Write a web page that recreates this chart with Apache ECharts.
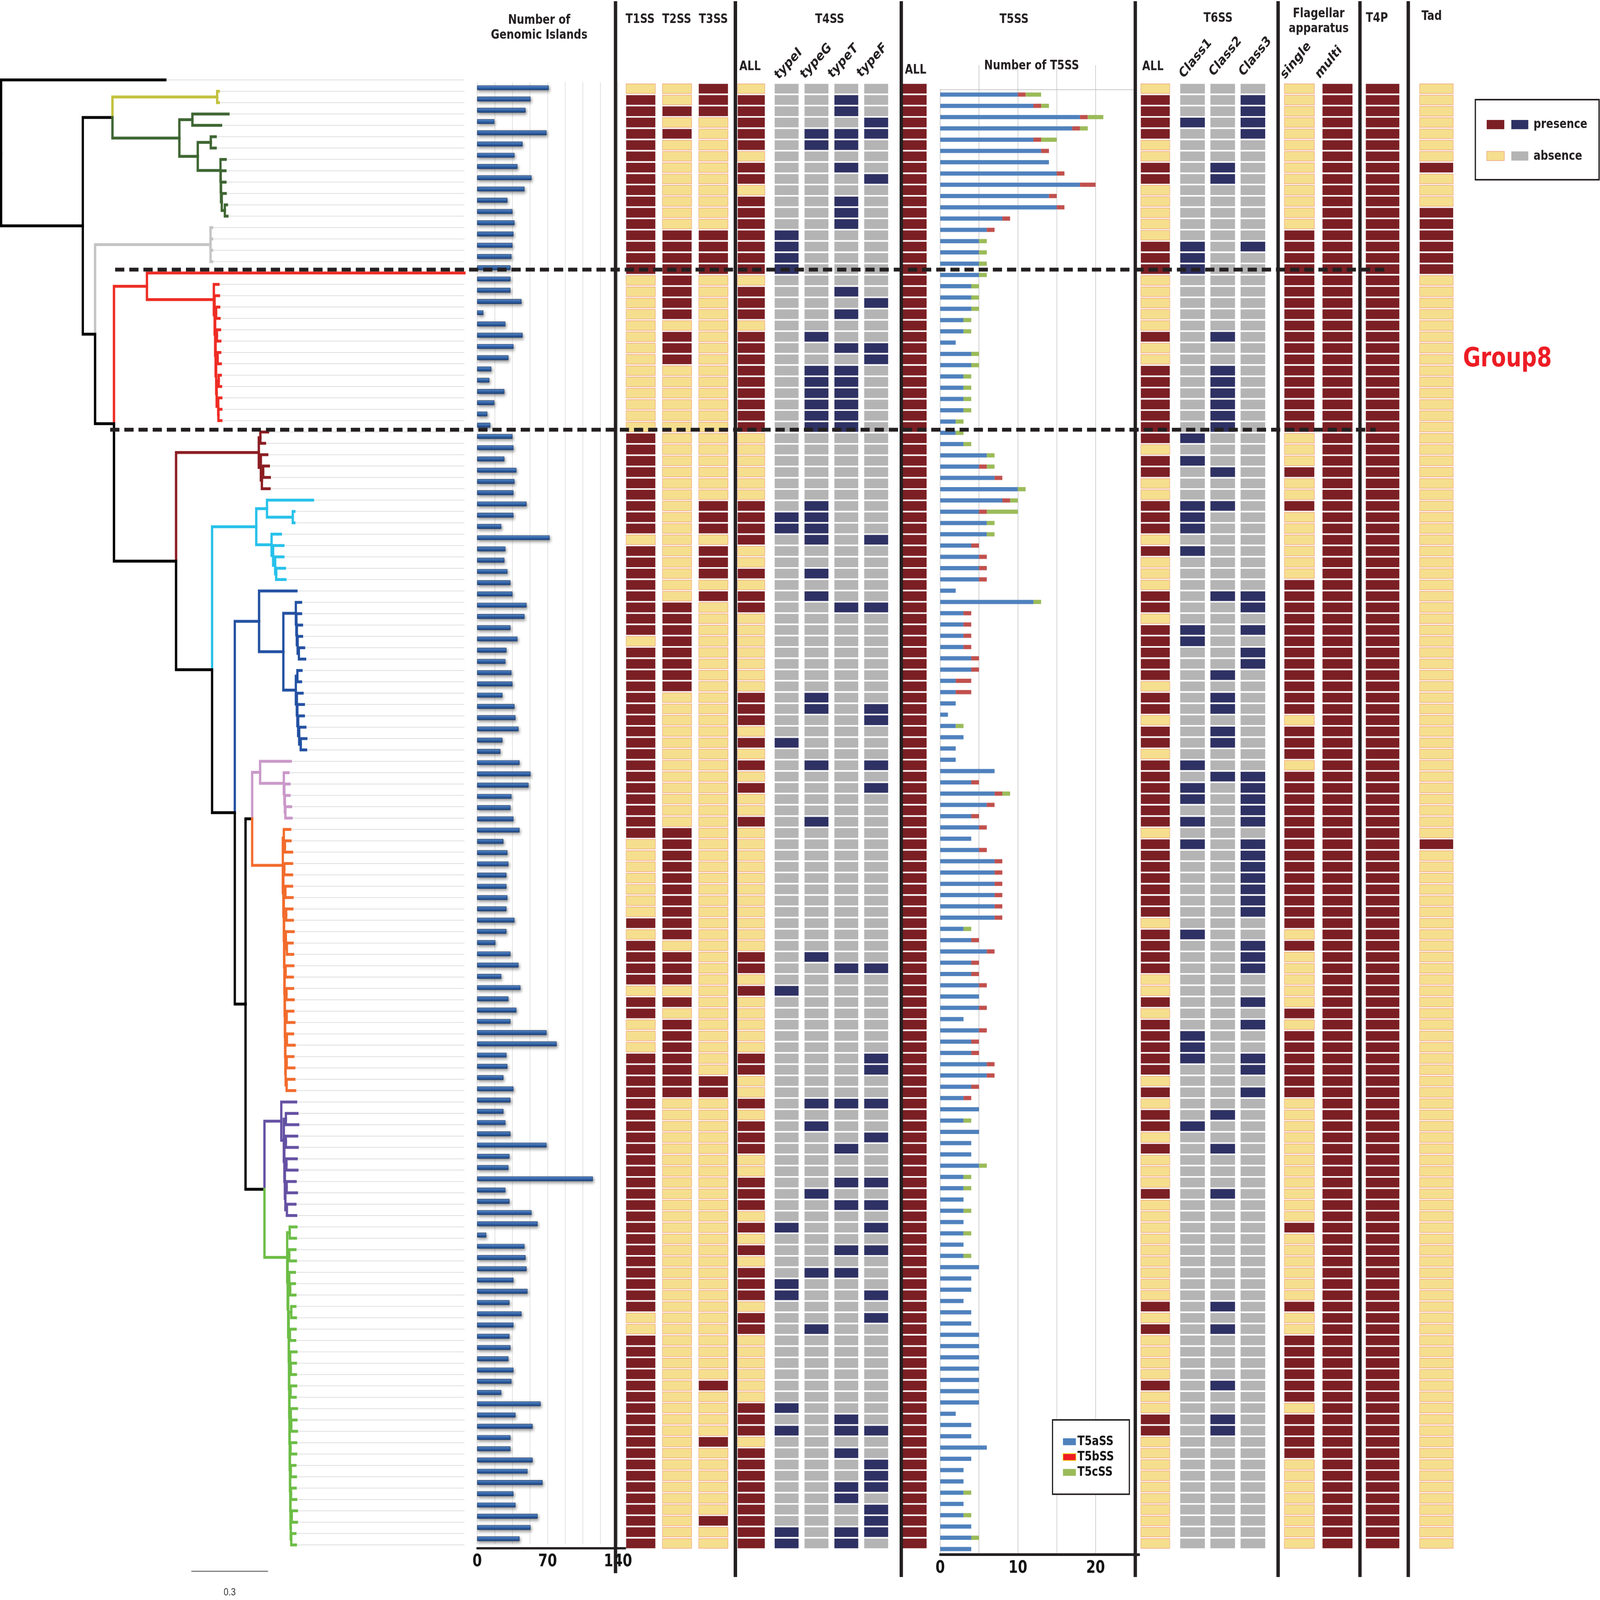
<!DOCTYPE html>
<html><head><meta charset="utf-8">
<script src="https://cdn.jsdelivr.net/npm/echarts/dist/echarts.min.js"></script>
<style>html,body{margin:0;padding:0;background:#fff;overflow:hidden}#c{width:5199px;height:4175px;transform-origin:0 0}</style>
</head><body><div id="c"></div>
<script>
// ---------------- DATA ----------------
const giCounts = [71,53,48,17,69,45,37,40,54,47, 30,35,37,36,35,34,33,33,33,44, 6,28,45,36,31,14,12,27,17,10,
  13,35,36,27,39,37,36,49,36,24, 72,28,27,30,33,35,49,47,33,40, 29,28,34,35,25,37,38,41,25,23,
  42,53,51,34,33,36,42,26,30,31, 29,29,30,29,37,29,18,33,41,24, 43,31,39,33,69,79,29,30,26,36,
  33,26,28,33,69,32,31,115,28,32, 54,60,9,47,48,49,36,50,32,44, 36,32,33,31,36,34,24,63,38,55,
  33,33,55,50,65,36,38,60,53,42];
const t5a = [10,12,18,17,12,13,14,15,18,14, 15,8,6,5,5,5,5,4,4,4, 3,3,2,4,4,3,3,3,3,2, 2,3,6,5,7,10,8,5,6,6,
  4,5,5,5,2,12,3,3,3,3, 4,4,2,2,2,1,2,3,2,2, 7,4,7,6,4,5,4,5,7,7, 7,7,7,7,3,4,6,4,4,5,
  5,5,3,5,4,4,6,6,4,3, 5,3,5,4,4,5,3,3,3,3, 3,3,3,3,5,4,4,3,4,4, 5,5,5,5,5,5,5,2,4,4, 6,4,3,3,3,3,3,4,4,4];
const t5b = [1,1,1,1,1,1,0,1,2,1, 1,1,1,0,0,0,0,0,0,0, 0,0,0,0,0,0,0,0,0,0, 0,0,0,1,1,0,1,1,0,0,
  1,1,1,1,0,0,1,1,1,1, 1,1,2,2,0,0,0,0,0,0, 0,1,1,1,1,1,0,1,1,1, 1,1,1,1,0,1,1,1,1,1,
  0,1,0,1,1,1,1,1,1,1, 0,0,0,0,0,0,0,0,0,0, 0,0,0,0,0,0,0,0,0,0, 0,0,0,0,0,0,0,0,0,0, 0,0,0,0,0,0,0,0,0,0];
const t5c = [2,1,2,1,2,0,0,0,0,0, 0,0,0,1,1,1,1,1,1,1, 1,1,0,1,1,1,1,1,1,1, 1,1,1,1,0,1,1,4,1,1,
  0,0,0,0,0,1,0,0,0,0, 0,0,0,0,0,0,1,0,0,0, 0,0,1,0,0,0,0,0,0,0, 0,0,0,0,1,0,0,0,0,0,
  0,0,0,0,0,0,0,0,0,0, 0,1,0,0,0,1,1,1,0,1, 0,1,0,1,0,0,0,0,0,0, 0,0,0,0,0,0,0,0,0,0, 0,0,0,0,1,0,1,0,1,0];

// presence (1) / absence (0), rows 1..130, groups of ten
const T1SS  = "0111111111 1111111000 0000000000 0111111111 0111111110 1111111111 1111111000 0000101111 0110001111 1111111111 1111111110 0111111111 1111111111";
const T2SS  = "0010100000 0001111111 1011100000 0000000000 0000001111 1111000000 0000001111 1111110111 0101111111 0000000000 0000000000 0000000000 0000000000";
const T3SS  = "1110000000 0001111000 0000000000 0000000111 0111010000 0000000000 0000000000 0000000000 0000000011 0000000000 0000000000 0000010000 1000000100";
const T4ALL = "0111110110 1111111011 1011111111 1000000111 1001011000 0000111010 1010010000 0000000110 1000001100 1011100111 0101011101 1000000111 0111111111";
const typeI = "0000000000 0001111000 0000000000 0000000011 0000000000 0000000010 0000000000 0000000000 1000000000 0000000000 0100001100 0000000101 0000000011";
const typeG = "0000110000 0000000000 0010011111 1000000111 1001010000 0000110000 1000010000 0000000100 0000000000 1010000010 0000010000 1000000000 0000000000";
const typeT = "0110110100 1110000010 1001011111 1000000000 0000001000 0000000000 0000000000 0000000010 0000000000 1000100101 0001010000 0000000011 0100110011";
const typeF = "0001100010 0000000001 0001100000 0000000000 1000001000 0000011000 1010000000 0000000010 0000001100 1001000101 0101000101 0000000001 0011101110";
const T5ALL = "1111111111 1111111111 1111111111 1111111111 1111111111 1111111111 1111111111 1111111111 1111111111 1111111111 1111111111 1111111111 1111111111";
const T6ALL = "0111100110 0000111000 0010011111 1101100111 0100011011 1110110110 1111110111 1111011110 0101111101 0110100010 0000000010 1000010011 0000000000";
const Class1= "0001000000 0000111000 0000000000 0101000111 0100000011 0000000000 1011010100 0000010000 0000111000 0010000000 0000000000 0000000000 0000000000";
const Class2= "0000000110 0000000000 0010011111 1000100100 0000010000 0010110110 0100000000 0000000000 0000000000 0100100010 0000000010 1000010011 0000000000";
const Class3= "0111100000 0000100000 0000000000 0000000000 0000011010 1100000000 0111110111 1111001110 0101001101 0000000000 0000000000 0000000000 0000000000";
const single= "0000000000 0001111111 1111111111 1000100100 0000111111 1111110111 0111111111 1111101000 0010111111 0000000000 0100000010 0111111011 1100000000";
const multi = "1111111111 1111111111 1111111111 1111111111 1111111111 1111111111 1111111111 1111111111 1111111111 1111111111 1111111111 1111111111 1111111111";
const T4P   = "1111111111 1111111111 1111111111 1111111111 1111111111 1111111111 1111111111 1111111111 1111111111 1111111111 1111111111 1111111111 1111111111";
const Tad   = "0000000100 0111111000 0000000000 0000000000 0000000000 0000000000 0000000100 0000000000 0000000000 0000000000 0000000000 0000000000 0000000000";

// phylogeny (Newick pieces, branch lengths in substitutions/site)
const cladeYG = "(r2:0.006,r3:0.006)YG:0.410";
const cladeDG = "((r4:0.141,r5:0.112):0.051,((r6:0.019,r7:0.019):0.051,(r8:0.020,(r9:0.018,(r10:0.017,(r11:0.015,(r12:0.008,r13:0.010):0.012):0.003):0.001):0.001):0.089):0.072)DG:0.262";
const cladeGR = "(r14:0.006,r15:0.006,r16:0.006,r17:0.006)GR:0.452";
const cladeRD = "(r18:1.243,(r19:0.018,(r20:0.017,((r21:0.012,r22:0.013):0.004,((r23:0.012,r24:0.013):0.005,((r25:0.010,r26:0.012):0.006,((r27:0.008,r28:0.009):0.008,(r29:0.012,(r30:0.011,r31:0.011):0.001):0.006):0.002):0.002):0.002):0.002):0.003):0.262)RD:0.129";
const cladeMR = "((r32:0.030,r33:0.018):0.006,(r34:0.025,((r35:0.022,r36:0.026):0.005,r37:0.030):0.004):0.008)MR:0.324";
const cladeCY = "((r38:0.180,(r39:0.006,r40:0.006):0.101):0.042,(r41:0.036,(r42:0.040,(r43:0.032,(r44:0.034,r45:0.036):0.004):0.008):0.006):0.060)CY:0.173";
const cladeBL = "(r46:0.146,((r47:0.020,(r48:0.018,(r49:0.020,(r50:0.017,(r51:0.020,r52:0.024):0.005):0.003):0.002):0.002):0.049,((r53:0.016,r54:0.014):0.006,(r55:0.022,(r56:0.025,(r57:0.022,(r58:0.024,(r59:0.022,r60:0.021):0.006):0.004):0.003):0.002):0.004):0.049):0.095)BL:0.095";
const cladePK = "(r61:0.120,(r62:0.018,(r63:0.020,(r64:0.018,(r65:0.022,r66:0.024):0.002):0.002):0.002):0.093)PK:0.031";
const orangeGroups = ["(r67:0.025,(r68:0.022,r69:0.028):0.004):0.004","(r70:0.030,r71:0.030):0.004","(r72:0.026,r73:0.028):0.006",
  "(r74:0.024,r75:0.026):0.008","(r76:0.030,(r77:0.022,r78:0.024):0.004):0.006","(r79:0.030,r80:0.028):0.004",
  "(r81:0.026,r82:0.028):0.006","(r83:0.026,r84:0.030):0.006","(r85:0.024,r86:0.030):0.006","(r87:0.026,r88:0.030):0.004","(r89:0.030,r90:0.033):0.004"];
const orangeSteps = [0.002,0.002,0.001,0.001,0.001,0.001,0.001,0.001,0.001];
const cladePU = "(r91:0.058,((r92:0.045,r93:0.048):0.008,((r94:0.044,r95:0.046):0.006,((r96:0.040,r97:0.043):0.006,((r98:0.035,r99:0.040):0.005,(r100:0.033,r101:0.036):0.006):0.002):0.002):0.002):0.010)PU:0.066";
const greenGroups = ["(r102:0.026,r103:0.024):0.010","(r104:0.024,r105:0.026):0.006","(r106:0.022,(r107:0.018,r108:0.020):0.004):0.004",
  "(r109:0.016,r110:0.018):0.010","(r111:0.022,r112:0.020):0.004","(r113:0.024,(r114:0.020,r115:0.020):0.002):0.004",
  "(r116:0.022,r117:0.020):0.004","(r118:0.024,(r119:0.020,r120:0.022):0.002):0.004","(r121:0.022,r122:0.022):0.002",
  "(r123:0.018,r124:0.020):0.002","(r125:0.018,r126:0.020):0.002","(r127:0.020,r128:0.020):0.004","(r129:0.016,r130:0.018):0.002"];
const greenSteps = [0.002,0.002,0.002,0.001,0.001,0.001,0.001,0.001,0.001,0.001,0.001];

// ---------------- STYLE ----------------
const FF = "'DejaVu Sans', 'Liberation Sans', sans-serif";
const INK = '#231f20';
const cladeColors = {YG:'#c2c13c', DG:'#3e6632', GR:'#c4c4c4', RD:'#ee2c24', MR:'#8b1d22', CY:'#27c1ea',
  BL:'#2351a2', PK:'#ca98c9', OR:'#f26b2c', PU:'#6551a3', GN:'#6cbd45'};
const RED = '#7b1f24', YEL = '#f5df8e', YEL_B = '#f0a07a', NAVY = '#2e3163', GREY = '#b4b4b5';
const palRY = {on:{fill:RED}, off:{fill:YEL, stroke:YEL_B, lw:1.5}};
const palNG = {on:{fill:NAVY}, off:{fill:GREY}};

// ---------------- HELPERS ----------------
const N = 130;
const rowNames = Array.from({length:N}, (_, i) => 'strain' + (i + 1));
function bits(s) { const a = s.replace(/\s+/g, '').split('').map(Number); if (a.length !== N) console.error('bad length', a.length); return a; }
function chain(groups, steps) {
  let s = groups[groups.length - 1];
  for (let i = groups.length - 2; i >= 0; i--) s = '(' + groups[i] + ',' + s + ')' + (i > 0 ? ':' + steps[i - 1] : '');
  return s;
}
const cladeOR = chain(orangeGroups, orangeSteps) + 'OR:0.120';
const cladeGN = chain(greenGroups, greenSteps) + 'GN:0.089';
const newick = "(r1:0.643,((" + cladeYG + "," + cladeDG + "):0.116,(" + cladeGR + ",(" + cladeRD + ",(" + cladeMR + ",(" +
  cladeCY + ",(" + cladeBL + ",((" + cladePK + "," + cladeOR + "):0.026,(" + cladePU + "," + cladeGN +
  "):0.074):0.042):0.089):0.141):0.243):0.074):0.048):0.320);";

function parseNewick(str) {
  const s = str.replace(/\s+/g, ''); let i = 0;
  function node() {
    const n = {children: [], name: '', len: 0};
    if (s[i] === '(') {
      i++; n.children.push(node());
      while (s[i] === ',') { i++; n.children.push(node()); }
      if (s[i] !== ')') throw new Error('Newick: expected ) at ' + i);
      i++;
    }
    let nm = ''; while (i < s.length && !',():;'.includes(s[i])) nm += s[i++];
    n.name = nm;
    if (s[i] === ':') { i++; let num = ''; while (i < s.length && !',():;'.includes(s[i])) num += s[i++]; n.len = parseFloat(num); }
    return n;
  }
  return node();
}
const root = parseNewick(newick); root.len = 0;
let leafCounter = 0;
function lay(n, px, pc) {
  n.x = px + n.len; n.color = cladeColors[n.name] || pc;
  if (!n.children.length) n.y = ++leafCounter;
  else { n.children.forEach(c => lay(c, n.x, n.color)); n.y = (n.children[0].y + n.children[n.children.length - 1].y) / 2; }
}
lay(root, 0, '#000000');
if (leafCounter !== N) console.error('leaf count', leafCounter);
const treeMax = 1.8139;
const branchData = [], guideData = [];
(function walk(n) {
  n.children.forEach(c => {
    branchData.push({value: [n.x, n.y, c.y, c.x], itemStyle: {color: c.color}});
    walk(c);
  });
  if (!n.children.length) guideData.push([n.x, n.y]);
})(root);

// ---------------- LAYOUT ----------------
const ROW_TOP = 216.7, ROW_H = 3825.3;
const blocks = [
  {left:2023, width:354, cols:[T1SS,T2SS,T3SS], pal:palRY, r:0.805},
  {left:2397, width:88, cols:[T4ALL], pal:palRY, r:1},
  {left:2507.5, width:388, cols:[typeI,typeG,typeT,typeF], pal:palNG, r:0.80},
  {left:2934, width:77, cols:[T5ALL], pal:palRY, r:1},
  {left:3707, width:94, cols:[T6ALL], pal:palRY, r:1},
  {left:3826, width:294, cols:[Class1,Class2,Class3], pal:palNG, r:0.816},
  {left:4160, width:248, cols:[single,multi], pal:palRY, r:0.785},
  {left:4438, width:109, cols:[T4P], pal:palRY, r:1},
  {left:4613, width:109, cols:[Tad], pal:palRY, r:1}
];

const grid = [
  {left:3.5, top:193.7, width:1505.5, height:3852.3},
  {left:1550.6, top:214.3, width:457.4, height:3815.5},
  {left:3055, top:232, width:631, height:3824.7}
];
const xAxis = [
  {gridIndex:0, type:'value', min:0, max:treeMax, show:false},
  {gridIndex:1, type:'value', min:0, max:140, interval:17.5, offset:10,
    axisLine:{show:true, lineStyle:{color:INK, width:6}}, axisTick:{show:false},
    splitLine:{show:true, lineStyle:{color:'#dcdcdc', width:2}},
    axisLabel:{formatter: v => (v === 0 || v === 70 || v === 140) ? String(v) : '', fontSize:44, fontWeight:'bold', fontFamily:FF, color:'#111', margin:14, showMinLabel:true, showMaxLabel:true}},
  {gridIndex:2, type:'value', min:0, max:25, interval:5,
    axisLine:{show:true, lineStyle:{color:INK, width:7}}, axisTick:{show:false},
    splitLine:{show:true, lineStyle:{color:'#c6c6c6', width:2}},
    axisLabel:{formatter: v => (v === 0 || v === 10 || v === 20) ? String(v) : '', fontSize:44, fontWeight:'bold', fontFamily:FF, color:'#111', margin:14, showMinLabel:true}}
];
const yAxis = [
  {gridIndex:0, type:'value', min:0.5, max:N + 0.5, inverse:true, show:false},
  {gridIndex:1, type:'category', data:rowNames, inverse:true, show:false},
  {gridIndex:2, type:'category', data:rowNames, inverse:true, show:false}
];
const series = [];

// tree
series.push({type:'custom', name:'treeGuides', xAxisIndex:0, yAxisIndex:0, silent:true, z:1, data:guideData,
  renderItem: (p, api) => {
    const a = api.coord([api.value(0), api.value(1)]), b = api.coord([treeMax, api.value(1)]);
    return {type:'line', shape:{x1:a[0], y1:a[1], x2:b[0], y2:b[1]}, style:{stroke:'#d4d4d4', lineWidth:1.5}};
  }});
series.push({type:'custom', name:'tree', xAxisIndex:0, yAxisIndex:0, silent:true, z:3, data:branchData,
  renderItem: (p, api) => {
    const a = api.coord([api.value(0), api.value(1)]), b = api.coord([api.value(0), api.value(2)]), c = api.coord([api.value(3), api.value(2)]);
    return {type:'polyline', shape:{points:[a, b, c]}, style:{stroke:api.visual('color'), fill:'none', lineWidth:7.5, lineCap:'square', lineJoin:'miter'}};
  }});

// genomic islands
series.push({type:'bar', name:'GI', xAxisIndex:1, yAxisIndex:1, data:giCounts, barWidth:12, silent:true, z:3,
  itemStyle:{color:new echarts.graphic.LinearGradient(0,0,0,1,[{offset:0,color:'#6b9ad6'},{offset:0.45,color:'#3b6fb6'},{offset:1,color:'#1c4584'}]),
    borderColor:'#1a3a6a', borderWidth:1, shadowBlur:8, shadowColor:'rgba(0,0,0,0.45)', shadowOffsetX:3, shadowOffsetY:4}});

// T5SS stacked bars
series.push({type:'bar', name:'T5aSS', stack:'t5', xAxisIndex:2, yAxisIndex:2, data:t5a, barWidth:11, itemStyle:{color:'#4f81bd'}, silent:true});
series.push({type:'bar', name:'T5bSS', stack:'t5', xAxisIndex:2, yAxisIndex:2, data:t5b, barWidth:11, itemStyle:{color:'#c0504d'}, silent:true});
series.push({type:'bar', name:'T5cSS', stack:'t5', xAxisIndex:2, yAxisIndex:2, data:t5c, barWidth:11, itemStyle:{color:'#9bbb59'}, silent:true});

// presence / absence blocks
blocks.forEach((b, k) => {
  const gi = 3 + k;
  grid.push({left:b.left, top:ROW_TOP, width:b.width, height:ROW_H});
  xAxis.push({gridIndex:gi, type:'category', data:b.cols.map((_, i) => 'c' + i), show:false});
  yAxis.push({gridIndex:gi, type:'category', data:rowNames, inverse:true, show:false});
  const data = [];
  b.cols.forEach((col, ci) => bits(col).forEach((v, ri) => data.push([ci, ri, v])));
  series.push({type:'custom', xAxisIndex:gi, yAxisIndex:gi, silent:true, data,
    renderItem: (p, api) => {
      const c = api.coord([api.value(0), api.value(1)]), s = api.size([1, 1]);
      const w = s[0] * b.r, h = s[1] * 0.86;
      const st = api.value(2) ? b.pal.on : b.pal.off;
      return {type:'rect', shape:{x:c[0] - w / 2, y:c[1] - h / 2, width:w, height:h},
        style:{fill:st.fill, stroke:st.stroke || null, lineWidth:st.lw || 0}};
    }});
});

const option = {
  animation:false, backgroundColor:'#ffffff',
  grid, xAxis, yAxis, series,
  legend:{show:true, orient:'vertical', left:3420, top:3705, selectedMode:false, icon:'rect',
    itemWidth:42, itemHeight:18, itemGap:6, padding:[40, 50, 40, 33],
    borderColor:INK, borderWidth:4, backgroundColor:'#fff',
    textStyle:{fontSize:34, fontWeight:'bold', fontFamily:FF, color:'#111'},
    data:[{name:'T5aSS'}, {name:'T5bSS', itemStyle:{color:'#ee1c24', borderColor:'#f3e11a', borderWidth:2}}, {name:'T5cSS'}]}
};

// fit the 5199x4175 drawing to whatever viewport the browser actually provides
const box = document.getElementById('c');
const vw = window.innerWidth || 5199, vh = window.innerHeight || 4175;
box.style.transform = 'scale(' + (vw / 5199) + ',' + (vh / 4175) + ')';

const chart = echarts.init(box, null, {renderer:'canvas', width:5199, height:4175});
chart.setOption(option);

// ---------------- ANNOTATIONS ----------------
const g = [];
const hdr = (t, x, y, fs, rot, weight) => g.push({type:'text', x, y, rotation:(rot || 0) * Math.PI / 180, z:300,
  style:{text:t, fontSize:fs || 34, fontWeight:weight || 'bold', fontFamily:FF, fill:INK, align:'center', verticalAlign:'middle'}});
[['Number of',1752,53],['Genomic Islands',1752,92],['T1SS',2080,51],['T2SS',2199,51],['T3SS',2318,51],
 ['T4SS',2696,51],['ALL',2437,174],['T5SS',3295,51],['ALL',2975,183],['Number of T5SS',3352,172],
 ['T6SS',3958,48],['ALL',3746,174],['Flagellar',4285,36],['apparatus',4285,75],['T4P',4474,48],['Tad',4652,43]]
 .forEach(h => hdr(h[0], h[1], h[2], 34));
[['typeI',2562,167],['typeG',2652,160],['typeT',2740,160],['typeF',2834,158]].forEach(h => hdr(h[0], h[1], h[2], 36, 42));
[['Class1',3885,153],['Class2',3982,148],['Class3',4079,148],['single',4211,158],['multi',4318,163]].forEach(h => hdr(h[0], h[1], h[2], 36, 45));

// separators
[2000, 2389.5, 2928.5, 3689, 4153, 4419, 4576].forEach(x => g.push({type:'rect', z:250,
  shape:{x:x - 5.5, y:3, width:11, height:(x === 2000 ? 4102 : 4112)}, style:{fill:INK}}));
// axis extensions and T5 top border / gridline continuation above the plot
g.push({type:'rect', z:240, shape:{x:2004, y:4037, width:30, height:6}, style:{fill:INK}});
g.push({type:'rect', z:240, shape:{x:3680, y:4053.2, width:24, height:7}, style:{fill:INK}});
g.push({type:'line', z:5, shape:{x1:3055, y1:234, x2:3686, y2:234}, style:{stroke:'#c6c6c6', lineWidth:2}});
[5, 10, 15, 20].forEach(v => {
  const px = chart.convertToPixel({gridIndex:2}, [v, 0])[0];
  g.push({type:'line', z:4, shape:{x1:px, y1:170, x2:px, y2:234}, style:{stroke:'#c6c6c6', lineWidth:2}});
});

// group dashed lines
const yD1 = chart.convertToPixel({gridIndex:0}, [0, 17.7])[1];
const yD2 = chart.convertToPixel({gridIndex:0}, [0, 31.8])[1];
g.push({type:'line', z:400, shape:{x1:374, y1:yD1, x2:4513, y2:yD1}, style:{stroke:INK, lineWidth:10, lineDash:[30, 16]}});
g.push({type:'line', z:400, shape:{x1:358, y1:yD2, x2:4470, y2:yD2}, style:{stroke:INK, lineWidth:10, lineDash:[30, 16]}});
g.push({type:'text', z:300, x:4898, y:938, style:{text:'Group8', fontSize:70, fontWeight:'bold', fontFamily:FF, fill:'#ed1c24', align:'center', verticalAlign:'middle'}});

// presence / absence legend
g.push({type:'rect', z:300, shape:{x:4794, y:260, width:402, height:209}, style:{fill:'#fff', stroke:INK, lineWidth:4}});
g.push({type:'rect', z:301, shape:{x:4831, y:313, width:57, height:24}, style:{fill:RED}});
g.push({type:'rect', z:301, shape:{x:4911, y:313, width:55, height:24}, style:{fill:NAVY}});
g.push({type:'rect', z:301, shape:{x:4831, y:395, width:57, height:24}, style:{fill:YEL, stroke:YEL_B, lineWidth:1.5}});
g.push({type:'rect', z:301, shape:{x:4911, y:395, width:55, height:24}, style:{fill:GREY}});
g.push({type:'text', z:301, x:4983, y:325, style:{text:'presence', fontSize:34, fontWeight:'bold', fontFamily:FF, fill:INK, align:'left', verticalAlign:'middle'}});
g.push({type:'text', z:301, x:4983, y:408, style:{text:'absence', fontSize:34, fontWeight:'bold', fontFamily:FF, fill:INK, align:'left', verticalAlign:'middle'}});

// tree scale bar
const sx1 = chart.convertToPixel({gridIndex:0}, [0.745, 1])[0];
const sx2 = chart.convertToPixel({gridIndex:0}, [1.045, 1])[0];
g.push({type:'line', z:300, shape:{x1:sx1, y1:4100, x2:sx2, y2:4100}, style:{stroke:'#444', lineWidth:2}});
g.push({type:'text', z:300, x:(sx1 + sx2) / 2, y:4155, style:{text:'0.3', fontSize:28, fontFamily:"'Liberation Sans Narrow','Liberation Sans',sans-serif", fill:'#333', align:'center', verticalAlign:'middle'}});

chart.setOption({graphic:{elements:g}});
</script></body></html>
